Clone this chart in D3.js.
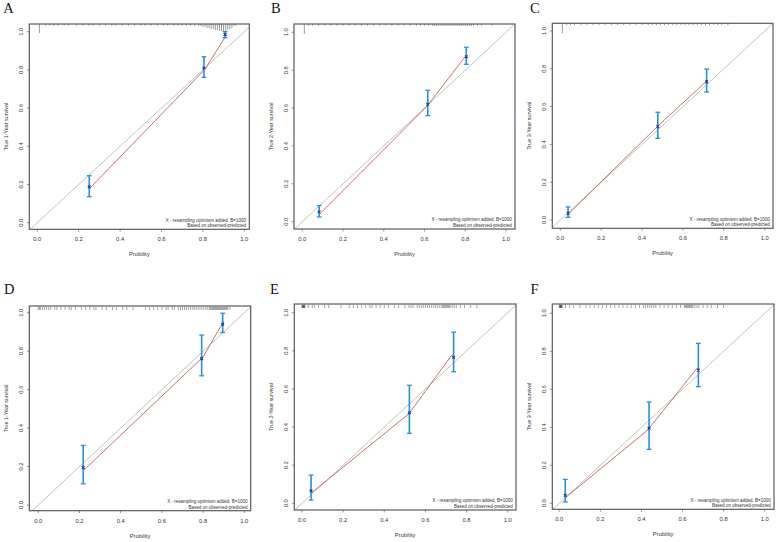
<!DOCTYPE html>
<html>
<head>
<meta charset="utf-8">
<script src="https://cdn.jsdelivr.net/npm/d3@7"></script>
<style>
  html, body { margin: 0; padding: 0; background: #fff; }
  svg { display: block; }
</style>
</head>
<body>
<svg id="chart" width="778" height="542"></svg>
<script>
// ---------------- data ----------------
const panelLetters = ["A", "B", "C", "D", "E", "F"];
const yTitles = ["True 1-Year survival", "True 2-Year survival", "True 3-Year survival",
                 "True 1-Year survival", "True 2-Year survival", "True 3-Year survival"];
const xTitle = "Probility";
const tickValues = [0, 0.2, 0.4, 0.6, 0.8, 1.0];
const tickLabels = ["0.0", "0.2", "0.4", "0.6", "0.8", "1.0"];
const legendLines = ["X - resampling optimism added, B=1000", "Based on observed-predicted"];

// Panel A
const predA = [0.251, 0.805, 0.907];
const obsA  = [0.188, 0.810, 0.985];
const loA   = [0.136, 0.761, 0.969];
const hiA   = [0.246, 0.869, 1.000];
const lineAx = [0.255, 0.81, 0.915];
const lineAy = [0.182, 0.803, 0.985];
const rugAx = [0.01,0.04,0.06,0.08,0.10,0.13,0.15,0.19,0.22,0.25,0.27,0.30,0.33,0.36,0.38,0.41,0.44,0.47,0.50,0.52,0.55,0.58,0.61,0.63,0.66,0.68,0.70,0.72,0.74,0.76,0.78,0.79,0.80,0.81,0.82,0.83,0.84,0.85,0.86,0.87,0.88,0.89,0.90,0.91,0.92,0.93,0.94,0.95,0.96];
const rugAn = [9,1,1,1,1,1,1,1,1,1,1,1,1,1,1,1,1,1,1,1,1,1,1,1,1,1,1,1,1,2,2,2,3,3,4,4,5,5,6,6,7,7,7,7,6,5,4,2,1];

// Panel B
const predB = [0.083, 0.616, 0.805];
const obsB  = [0.051, 0.620, 0.871];
const loB   = [0.025, 0.560, 0.831];
const hiB   = [0.085, 0.694, 0.921];
const lineBx = [0.085, 0.61, 0.80];
const lineBy = [0.040, 0.607, 0.872];
const rugBx = [0.01,0.03,0.05,0.08,0.11,0.14,0.17,0.20,0.23,0.26,0.29,0.32,0.35,0.38,0.41,0.44,0.47,0.50,0.53,0.56,0.58,0.60,0.62,0.64,0.65,0.66,0.67,0.68,0.69,0.70,0.71,0.72,0.73,0.74,0.75,0.76,0.77,0.78,0.79,0.80,0.81,0.82,0.83,0.84,0.86,0.88,0.93];
const rugBn = [10,1,1,1,1,1,1,1,1,1,1,1,1,1,1,1,1,1,1,1,1,1,1,2,1,2,1,2,1,2,2,1,2,2,1,2,1,2,1,2,1,1,2,1,1,1,1];

// Panel C
const predC = [0.038, 0.477, 0.716];
const obsC  = [0.035, 0.494, 0.732];
const loC   = [0.014, 0.432, 0.677];
const hiC   = [0.069, 0.570, 0.799];
const lineCx = [0.04, 0.48, 0.716];
const lineCy = [0.032, 0.500, 0.735];
const rugCx = [0.01,0.03,0.05,0.07,0.10,0.13,0.16,0.19,0.22,0.25,0.28,0.31,0.34,0.37,0.40,0.43,0.45,0.47,0.49,0.51,0.53,0.55,0.57,0.59,0.61,0.63,0.65,0.67,0.69,0.71,0.73,0.75,0.77,0.79,0.82];
const rugCn = [10,1,1,1,1,1,1,1,1,1,1,1,1,1,1,1,1,1,1,2,1,1,2,1,2,1,2,2,1,2,1,1,1,1,1];

// Panel D
const predD = [0.218, 0.793, 0.895];
const obsD  = [0.195, 0.761, 0.940];
const loD   = [0.110, 0.672, 0.897];
const hiD   = [0.310, 0.884, 0.997];
const lineDx = [0.22, 0.80, 0.90];
const lineDy = [0.180, 0.770, 0.955];
const rugD = [0.0,0.005,0.01,0.02,0.03,0.04,0.05,0.06,0.08,0.09,0.11,0.13,0.15,0.16,0.18,0.21,0.23,0.25,0.27,0.28,0.31,0.33,0.36,0.38,0.41,0.43,0.46,0.52,0.54,0.56,0.58,0.60,0.62,0.63,0.65,0.66,0.68,0.69,0.70,0.71,0.72,0.73,0.74,0.75,0.76,0.77,0.78,0.79,0.80,0.81,0.82,0.83,0.835,0.84,0.845,0.85,0.855,0.86,0.865,0.87,0.875,0.88,0.885,0.89,0.895,0.90,0.905,0.91,0.915,0.92,0.93];

// Panel E
const predE = [0.044, 0.522, 0.737];
const obsE  = [0.066, 0.475, 0.766];
const loE   = [0.017, 0.367, 0.690];
const hiE   = [0.148, 0.619, 0.898];
const lineEx = [0.04, 0.52, 0.73];
const lineEy = [0.050, 0.470, 0.780];
const rugE = [0.0,0.002,0.004,0.006,0.008,0.010,0.012,0.014,0.03,0.05,0.06,0.08,0.11,0.13,0.19,0.23,0.25,0.27,0.29,0.31,0.33,0.34,0.36,0.38,0.40,0.42,0.45,0.47,0.50,0.52,0.53,0.54,0.56,0.57,0.58,0.59,0.60,0.61,0.62,0.63,0.64,0.65,0.66,0.67,0.68,0.685,0.69,0.695,0.70,0.705,0.71,0.715,0.72,0.73,0.74,0.75,0.77,0.79,0.82,0.85];

// Panel F
const predF = [0.029, 0.437, 0.677];
const obsF  = [0.042, 0.395, 0.701];
const loF   = [0.007, 0.284, 0.614];
const hiF   = [0.126, 0.533, 0.842];
const lineFx = [0.03, 0.43, 0.67];
const lineFy = [0.030, 0.385, 0.710];
const rugF = [0.0,0.002,0.004,0.006,0.008,0.010,0.012,0.014,0.03,0.05,0.07,0.10,0.13,0.15,0.17,0.19,0.21,0.23,0.25,0.27,0.29,0.31,0.33,0.35,0.37,0.39,0.41,0.42,0.43,0.44,0.45,0.46,0.47,0.49,0.51,0.53,0.55,0.57,0.59,0.61,0.615,0.62,0.625,0.63,0.635,0.64,0.645,0.65,0.66,0.67,0.68,0.70,0.72,0.74,0.77,0.80];

// ---------------- layout (positions / styles only) ----------------
const layout = [
  { x0: 37.3,  x1: 244.3, y0: 222.7, y1: 31.7,  box: [29.3, 24, 249.3, 229.3], lx: 3.3, ly: 12.5 },
  { x0: 302.3, x1: 506,   y0: 221.7, y1: 32.3,  box: [294, 24, 515, 229],      lx: 271, ly: 12.5 },
  { x0: 560.3, x1: 764.7, y0: 220,   y1: 31,    box: [552.3, 23.3, 773, 228.3], lx: 530, ly: 12.5 },
  { x0: 38.3,  x1: 244.3, y0: 505,   y1: 312.7, box: [29.3, 306, 250.7, 510.7], lx: 4, ly: 293.5 },
  { x0: 302,   x1: 507.7, y0: 503.3, y1: 312.7, box: [294.3, 304, 516, 510],    lx: 270, ly: 293.5 },
  { x0: 559.3, x1: 764.7, y0: 503.3, y1: 313.3, box: [552.3, 304, 774, 509.3],  lx: 530.5, ly: 293.5 }
];

const panels = [
  { pred: predA, obs: obsA, lo: loA, hi: hiA, lx: lineAx, ly: lineAy, spike: true, rx: rugAx, rn: rugAn },
  { pred: predB, obs: obsB, lo: loB, hi: hiB, lx: lineBx, ly: lineBy, spike: true, rx: rugBx, rn: rugBn },
  { pred: predC, obs: obsC, lo: loC, hi: hiC, lx: lineCx, ly: lineCy, spike: true, rx: rugCx, rn: rugCn },
  { pred: predD, obs: obsD, lo: loD, hi: hiD, lx: lineDx, ly: lineDy, spike: false, rx: rugD },
  { pred: predE, obs: obsE, lo: loE, hi: hiE, lx: lineEx, ly: lineEy, spike: false, rx: rugE },
  { pred: predF, obs: obsF, lo: loF, hi: hiF, lx: lineFx, ly: lineFy, spike: false, rx: rugF }
];

const svg = d3.select("#chart");
const FONT = "'Liberation Sans', Arial, Helvetica, sans-serif";
const BLUE = "#2a90d4";
const DARK = "#2e3790";
const RED = "#bb5a50";

panels.forEach((p, i) => {
  const L = layout[i];
  const [bx0, by0, bx1, by1] = L.box;
  const x = d3.scaleLinear().domain([0, 1]).range([L.x0, L.x1]);
  const y = d3.scaleLinear().domain([0, 1]).range([L.y0, L.y1]);
  const g = svg.append("g");

  const clipId = "clip" + i;
  svg.append("clipPath").attr("id", clipId)
    .append("rect").attr("x", bx0).attr("y", by0).attr("width", bx1 - bx0).attr("height", by1 - by0);

  // panel letter
  svg.append("text").attr("x", L.lx).attr("y", L.ly)
    .attr("font-family", "'Liberation Serif', 'Times New Roman', serif")
    .attr("font-size", 14.5).attr("fill", "#111").text(panelLetters[i]);

  // ideal diagonal
  g.append("line").attr("clip-path", `url(#${clipId})`)
    .attr("x1", x(-0.1)).attr("y1", y(-0.1)).attr("x2", x(1.1)).attr("y2", y(1.1))
    .attr("stroke", "#9a9a9a").attr("stroke-width", 0.6);

  // rug at top
  const topY = by0;
  if (p.spike) {
    const len = d3.scaleLinear().domain([0, 10]).range([0, 10]);
    g.selectAll(".rug").data(p.rx).enter().append("line")
      .attr("x1", d => x(d)).attr("x2", d => x(d))
      .attr("y1", topY).attr("y2", (d, k) => topY + Math.max(1.8, len(p.rn[k])))
      .attr("stroke", "#555").attr("stroke-width", 0.6);
  } else {
    g.selectAll(".rug").data(p.rx).enter().append("line")
      .attr("x1", d => x(d)).attr("x2", d => x(d))
      .attr("y1", topY + 0.8).attr("y2", topY + 4)
      .attr("stroke", "#111").attr("stroke-opacity", 0.55).attr("stroke-width", 0.7);
  }

  // calibration line (red)
  const lineData = p.lx.map((v, k) => [v, p.ly[k]]);
  g.append("path").datum(lineData)
    .attr("d", d3.line().x(d => x(d[0])).y(d => y(d[1])))
    .attr("fill", "none").attr("stroke", RED).attr("stroke-width", 0.85);

  // error bars
  p.pred.forEach((v, k) => {
    const cx = x(v);
    g.append("line").attr("x1", cx).attr("x2", cx).attr("y1", y(p.lo[k])).attr("y2", y(p.hi[k]))
      .attr("stroke", BLUE).attr("stroke-width", 1.6);
    [p.lo[k], p.hi[k]].forEach(e => {
      g.append("line").attr("x1", cx - 2.4).attr("x2", cx + 2.4).attr("y1", y(e)).attr("y2", y(e))
        .attr("stroke", BLUE).attr("stroke-width", 1.3);
    });
    // bias-corrected point "x"
    const cy = y(p.obs[k]);
    const s = 1.4;
    g.append("path")
      .attr("d", `M${cx - s},${cy - s}L${cx + s},${cy + s}M${cx - s},${cy + s}L${cx + s},${cy - s}`)
      .attr("stroke", DARK).attr("stroke-width", 1.1).attr("fill", "none");
  });

  // box
  g.append("rect").attr("x", bx0).attr("y", by0).attr("width", bx1 - bx0).attr("height", by1 - by0)
    .attr("fill", "none").attr("stroke", "#5a5a5a").attr("stroke-width", 1.2);

  // axis ticks and labels
  tickValues.forEach((t, k) => {
    g.append("line").attr("x1", x(t)).attr("x2", x(t)).attr("y1", by1).attr("y2", by1 + 2.5)
      .attr("stroke", "#555").attr("stroke-width", 0.6);
    g.append("text").attr("x", x(t)).attr("y", by1 + 12)
      .attr("text-anchor", "middle").attr("font-family", FONT).attr("font-size", 5.8)
      .attr("fill", "#333").text(tickLabels[k]);
    g.append("line").attr("y1", y(t)).attr("y2", y(t)).attr("x1", bx0).attr("x2", bx0 - 2.5)
      .attr("stroke", "#555").attr("stroke-width", 0.6);
    g.append("text").attr("transform", `translate(${bx0 - 6},${y(t)}) rotate(-90)`)
      .attr("text-anchor", "middle").attr("font-family", FONT).attr("font-size", 5.8)
      .attr("fill", "#333").text(tickLabels[k]);
  });

  // axis titles
  g.append("text").attr("x", (bx0 + bx1) / 2).attr("y", by1 + 27)
    .attr("text-anchor", "middle").attr("font-family", FONT).attr("font-size", 5.8)
    .attr("fill", "#333").text(xTitle);
  g.append("text").attr("transform", `translate(${bx0 - 21},${(by0 + by1) / 2}) rotate(-90)`)
    .attr("text-anchor", "middle").attr("font-family", FONT).attr("font-size", 5.4)
    .attr("fill", "#333").text(yTitles[i]);

  // legend text
  legendLines.forEach((s, k) => {
    g.append("text").attr("x", bx1 - 3.3).attr("y", by1 - 7.8 + k * 5.6)
      .attr("text-anchor", "end").attr("font-family", FONT).attr("font-size", 4.5)
      .attr("fill", "#333").text(s);
  });
});
</script>
</body>
</html>
